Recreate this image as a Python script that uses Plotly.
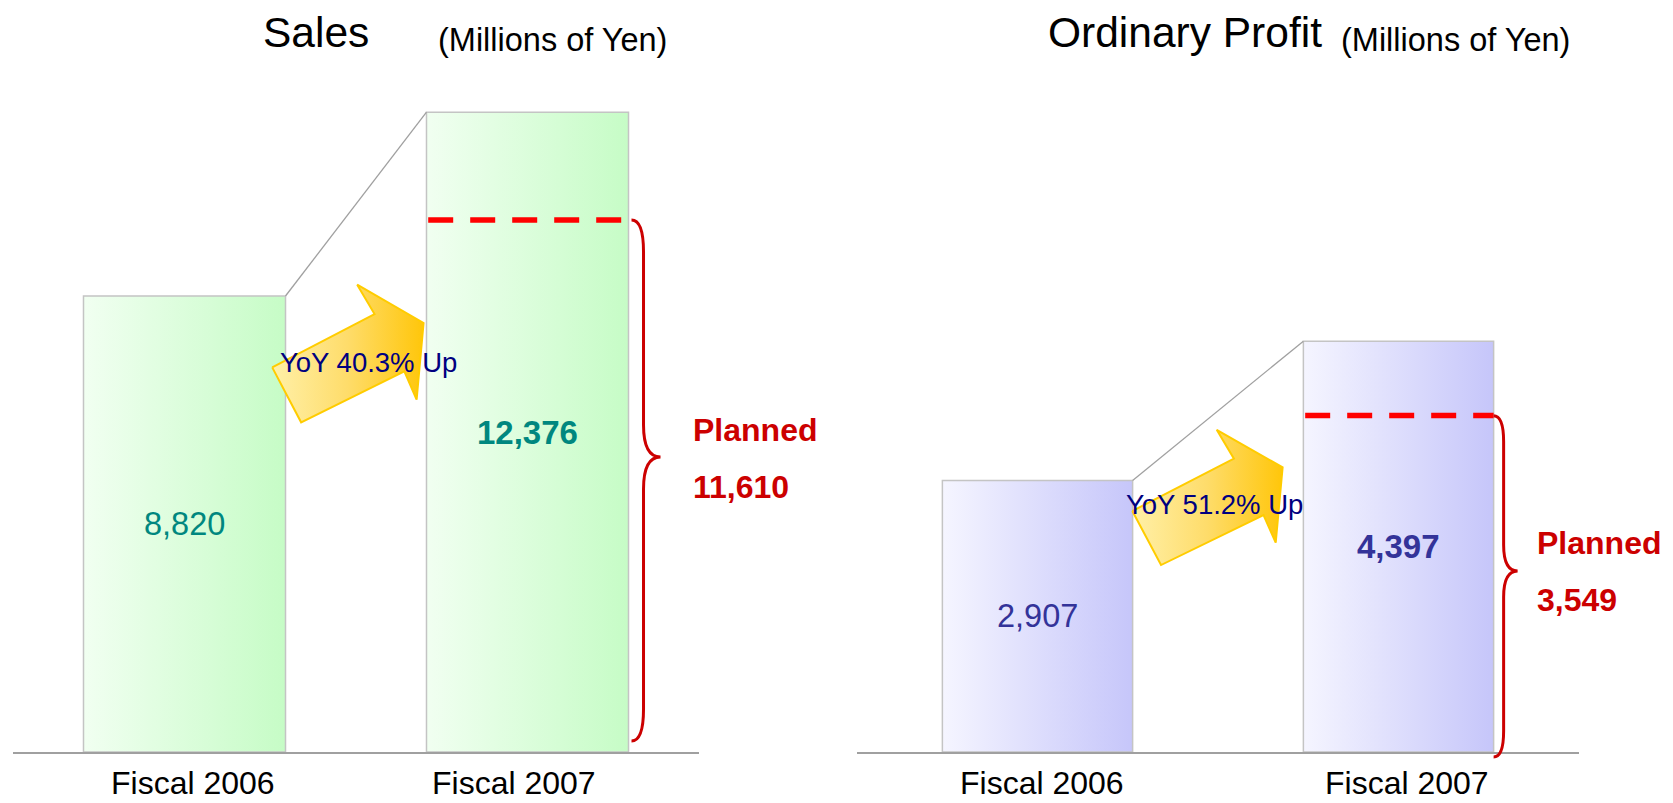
import plotly.graph_objects as go

# ---------------- data ----------------
categories = ["Fiscal 2006", "Fiscal 2007"]
sales = [8820, 12376]
profit = [2907, 4397]
plan_labels = ["11,610", "3,549"]
plan_marker_level = [10290, 3600]      # height at which the dashed plan line is drawn
yoy_labels = ["YoY 40.3% Up", "YoY 51.2% Up"]
titles = ["Sales", "Ordinary Profit"]
unit_label = "(Millions of Yen)"
value_labels_sales = ["8,820", "12,376"]
value_labels_profit = ["2,907", "4,397"]

# ---------------- geometry / style ----------------
W, H = 1673, 803
MT, MB = 60, 51
PLOT_H = H - MT - MB
Y0 = H - MB
FONT = "Arial, Liberation Sans, sans-serif"

panels = [
    dict(values=sales, vlabels=value_labels_sales, plan=plan_marker_level[0], plan_lbl=plan_labels[0],
         yoy=yoy_labels[0], title=titles[0],
         domain=[13 / W, 699 / W], ymax=13385, bar_w=0.589,
         fill=["#f1fff1", "#c6fcc6"], txt="#00877f",
         arrow_box=[0.2557, 0.697, 6377, 9038], yoy_pos=(0.535, 7530),
         brace=dict(end=3, stem=15, tip=32, curl=32, bottom_px=741),
         plan_txt_px=(691, 430, 487), title_px=(316, 32), unit_px=(552, 40),
         cat_shift=[8, -14]),
    dict(values=profit, vlabels=value_labels_profit, plan=plan_marker_level[1], plan_lbl=plan_labels[1],
         yoy=yoy_labels[1], title=titles[1],
         domain=[857 / W, 1579 / W], ymax=7406, bar_w=0.527,
         fill=["#f5f5ff", "#c6c6fa"], txt="#333399",
         arrow_box=[0.2627, 0.679, 2001, 3448], yoy_pos=(0.490, 2644),
         brace=dict(end=0, stem=10, tip=24, curl=26, bottom_px=757),
         plan_txt_px=(1535, 543, 600), title_px=(1185, 32), unit_px=(1455, 40),
         cat_shift=[4, 8]),
]

ARROW = [(0, 0.3995), (0.191, 0), (0.873, 0.370), (0.954, 0.165),
         (1, 0.722), (0.5615, 1), (0.676, 0.787), (0, 0.3995)]


def x_px(p, xv):
    d0, d1 = p["domain"]
    return W * (d0 + (xv + 0.5) / 2 * (d1 - d0))


def y_px(p, yv):
    return Y0 - yv / p["ymax"] * PLOT_H


def paper_x(px):
    return px / W


def paper_y(py):
    return (Y0 - py) / PLOT_H


fig = go.Figure()
annotations = []
shapes = []

for k, p in enumerate(panels):
    xa = "x" if k == 0 else "x2"
    ya = "y" if k == 0 else "y2"
    w = p["bar_w"]
    vals = p["values"]

    # bars (gradient filled)
    for i, v in enumerate(vals):
        fig.add_trace(go.Scatter(
            x=[i - w / 2, i + w / 2, i + w / 2, i - w / 2, i - w / 2],
            y=[0, 0, v, v, 0], mode="lines", fill="toself",
            fillgradient=dict(type="horizontal",
                              colorscale=[[0, p["fill"][0]], [1, p["fill"][1]]]),
            line=dict(color="#c4c4c4", width=1.5), xaxis=xa, yaxis=ya,
            showlegend=False, hoverinfo="skip"))

    # connector line between bar tops
    fig.add_trace(go.Scatter(x=[0 + w / 2, 1 - w / 2], y=[vals[0], vals[1]], mode="lines",
                             line=dict(color="#a0a0a0", width=1.3), xaxis=xa, yaxis=ya,
                             showlegend=False, hoverinfo="skip"))

    # YoY arrow
    ax0, ax1, ay0, ay1 = p["arrow_box"]
    fig.add_trace(go.Scatter(
        x=[ax0 + u * (ax1 - ax0) for u, _ in ARROW],
        y=[ay0 + v * (ay1 - ay0) for _, v in ARROW],
        mode="lines", fill="toself",
        fillgradient=dict(type="horizontal",
                          colorscale=[[0, "#fff0a8"], [0.5, "#fedc6a"], [1, "#ffc60a"]]),
        line=dict(color="#ffcc00", width=2), xaxis=xa, yaxis=ya,
        showlegend=False, hoverinfo="skip"))

    # dashed plan line
    fig.add_trace(go.Scatter(x=[1 - w / 2 + 0.005, 1 + w / 2], y=[p["plan"], p["plan"]], mode="lines",
                             line=dict(color="#ff0000", width=5.5, dash="25px,17px"),
                             xaxis=xa, yaxis=ya, showlegend=False, hoverinfo="skip"))

    # value labels
    for i, v in enumerate(vals):
        annotations.append(dict(
            x=i, y=v / 2, xref=xa, yref=ya,
            text=p["vlabels"][i] if i == 0 else "<b>%s</b>" % p["vlabels"][i],
            showarrow=False, font=dict(family=FONT, size=32.5 if i == 0 else 33, color=p["txt"]),
            xanchor="center", yanchor="middle"))

    # category labels
    for i, cat in enumerate(categories):
        annotations.append(dict(
            x=i, y=paper_y(783), xref=xa, yref="paper", text=cat, showarrow=False,
            xshift=p["cat_shift"][i], font=dict(family=FONT, size=32, color="#000000"),
            xanchor="center", yanchor="middle", borderpad=0))

    # YoY text
    annotations.append(dict(
        x=p["yoy_pos"][0], y=p["yoy_pos"][1], xref=xa, yref=ya, text=p["yoy"], showarrow=False,
        font=dict(family=FONT, size=27.5, color="#000080"), xanchor="center", yanchor="middle"))

    # brace
    b = p["brace"]
    xr = x_px(p, 1 + w / 2)
    top = y_px(p, p["plan"])
    bot = b["bottom_px"]
    tip = top + 0.455 * (bot - top)
    xe, xs, xt, c = xr + b["end"], xr + b["stem"], xr + b["tip"], b["curl"]
    pts = lambda x, y: "%.5f,%.5f" % (paper_x(x), paper_y(y))
    path = ("M %s Q %s %s L %s Q %s %s Q %s %s L %s Q %s %s" % (
        pts(xe, top), pts(xs, top), pts(xs, top + c), pts(xs, tip - c),
        pts(xs, tip), pts(xt, tip), pts(xs, tip), pts(xs, tip + c),
        pts(xs, bot - c), pts(xs, bot), pts(xe, bot)))
    shapes.append(dict(type="path", path=path, xref="paper", yref="paper",
                       line=dict(color="#cc0000", width=3)))

    # planned labels
    tx, ty1, ty2 = p["plan_txt_px"]
    for txt, ty in (("Planned", ty1), (p["plan_lbl"], ty2)):
        annotations.append(dict(
            x=paper_x(tx), y=paper_y(ty), xref="paper", yref="paper", text="<b>%s</b>" % txt,
            showarrow=False, font=dict(family=FONT, size=32, color="#cc0000"),
            xanchor="left", yanchor="middle"))

    # titles
    annotations.append(dict(
        x=paper_x(p["title_px"][0]), y=paper_y(p["title_px"][1]), xref="paper", yref="paper",
        text=p["title"], showarrow=False, font=dict(family=FONT, size=42.5, color="#000000"),
        xanchor="center", yanchor="middle"))
    annotations.append(dict(
        x=paper_x(p["unit_px"][0]), y=paper_y(p["unit_px"][1]), xref="paper", yref="paper",
        text=unit_label, showarrow=False, font=dict(family=FONT, size=32.5, color="#000000"),
        xanchor="center", yanchor="middle"))

xaxis_common = dict(range=[-0.5, 1.5], showticklabels=False, showgrid=False,
                    zeroline=False, showline=True, linecolor="#a0a0a0", linewidth=1.5,
                    ticks="", fixedrange=True)
yaxis_common = dict(showgrid=False, zeroline=False, showline=False, showticklabels=False,
                    fixedrange=True)

fig.update_layout(
    width=W, height=H, margin=dict(l=0, r=0, t=MT, b=MB),
    paper_bgcolor="white", plot_bgcolor="white",
    xaxis=dict(domain=panels[0]["domain"], anchor="y", **xaxis_common),
    xaxis2=dict(domain=panels[1]["domain"], anchor="y2", **xaxis_common),
    yaxis=dict(range=[0, panels[0]["ymax"]], anchor="x", **yaxis_common),
    yaxis2=dict(range=[0, panels[1]["ymax"]], anchor="x2", **yaxis_common),
    annotations=annotations, shapes=shapes, showlegend=False,
)

fig.write_html("out.html", config={"displayModeBar": False},
               post_script="document.body.style.margin='0';document.body.style.overflow='hidden';")
